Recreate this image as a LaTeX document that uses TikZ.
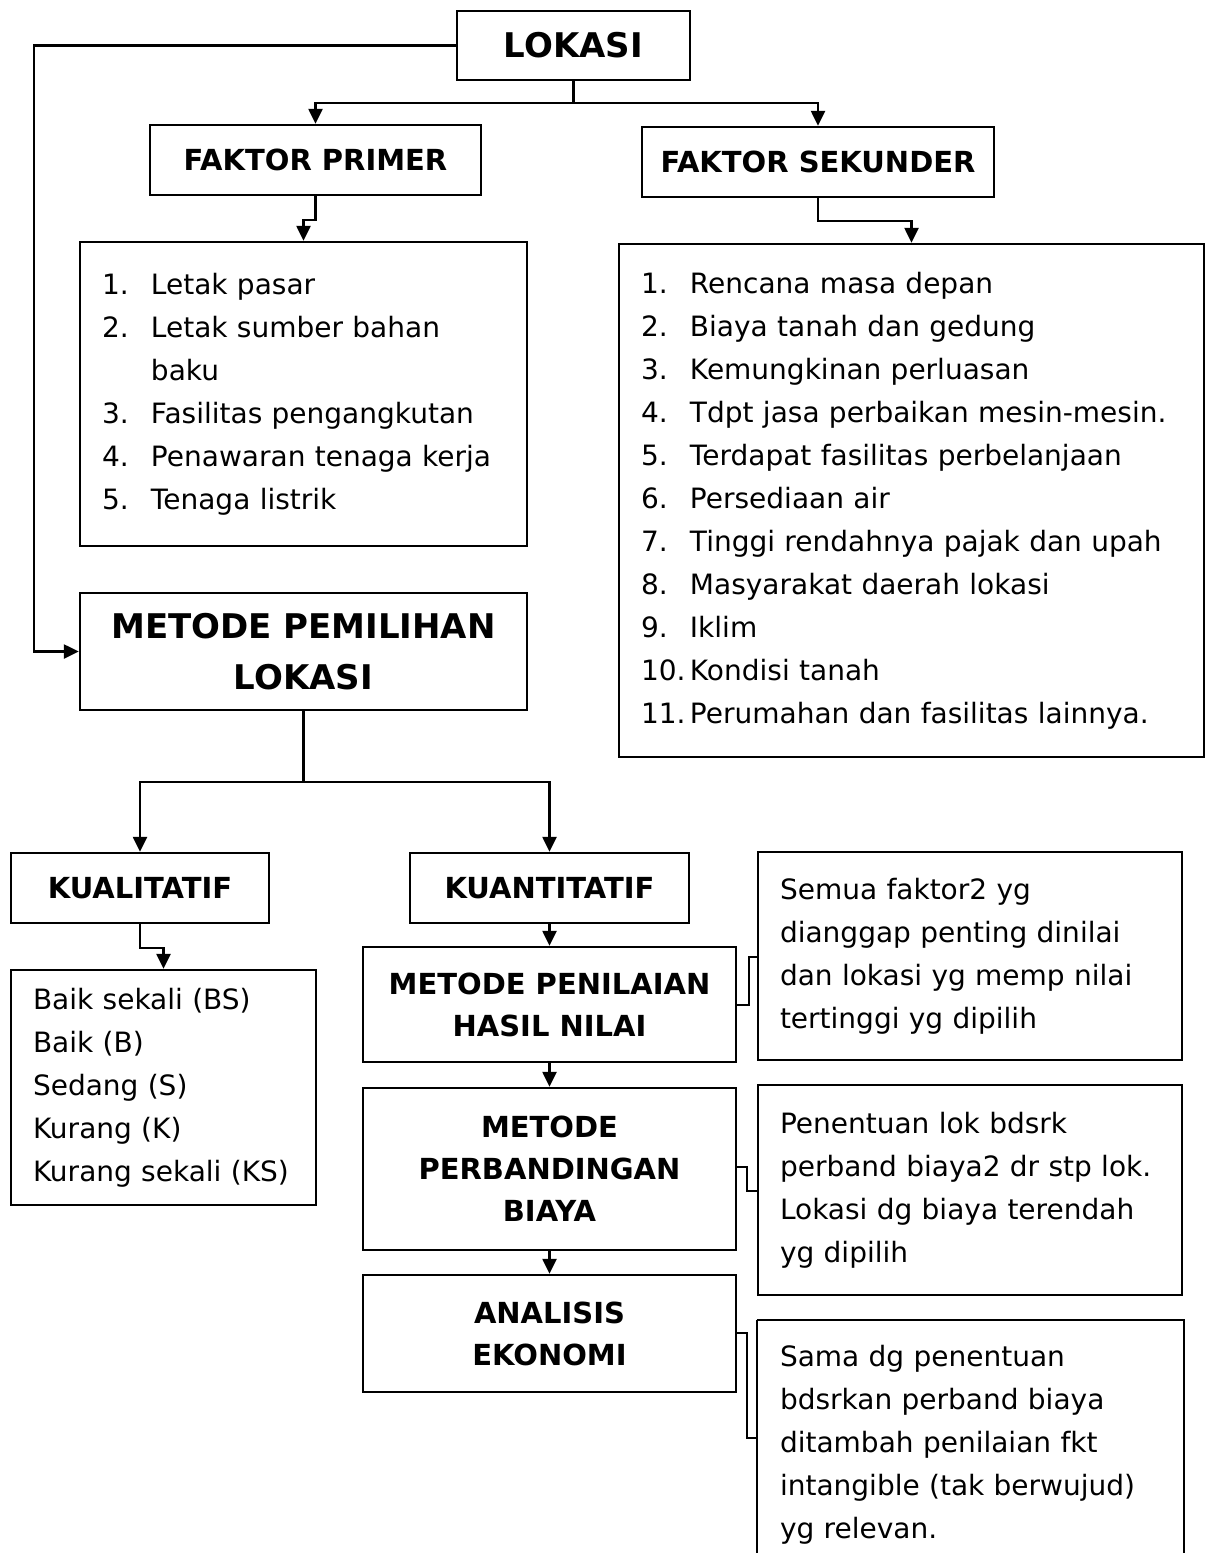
\documentclass[tikz,border=0pt]{standalone}
\usepackage{fontspec}
\setmainfont{DejaVu Sans}
\usetikzlibrary{arrows.meta}

\newcommand{\itm}[2]{\makebox[24.5pt][l]{#1}#2}

\begin{document}
\begin{tikzpicture}[
    x = 0.5pt, y = -0.5pt, % one unit = one pixel, y going down
    > = {Triangle[length=7.5pt,width=7pt]}, % arrow head style
    line width = 1.2pt % line style
    ]

    \tikzset{
    box/.style = {draw = black, line width = 1.2pt, rectangle, inner sep = 0pt, align = center},
    head/.style = {box, font = \fontsize{14.5}{21}\selectfont\bfseries},
    bighead/.style = {box, font = \fontsize{17}{25.5}\selectfont\bfseries},
    listbox/.style = {box, align = left, inner xsep = 11pt, font = \fontsize{14}{21.5}\selectfont}
    }

    \useasboundingbox (0,0) rectangle (1207,1553);

    % top level
    \node[bighead, minimum width=116.5pt, minimum height=34.5pt] (lokasi) at (573.5,45.5) {LOKASI};
    \node[head, minimum width=165.5pt, minimum height=35pt] (primer) at (315.5,160) {FAKTOR PRIMER};
    \node[head, minimum width=176pt, minimum height=35pt] (sekunder) at (818,162) {FAKTOR SEKUNDER};

    \node[listbox, minimum width=223.5pt, minimum height=152pt, text width=201.5pt] (primerlist) at (303.5,394)
        {\itm{1.}{Letak pasar}\\ \itm{2.}{Letak sumber bahan}\\ \itm{}{baku}\\
         \itm{3.}{Fasilitas pengangkutan}\\ \itm{4.}{Penawaran tenaga kerja}\\ \itm{5.}{Tenaga listrik}\\[4pt]};
    \node[listbox, minimum width=292.5pt, minimum height=256.5pt, text width=270.5pt] (sekunderlist) at (911.5,500.5)
        {\itm{1.}{Rencana masa depan}\\ \itm{2.}{Biaya tanah dan gedung}\\ \itm{3.}{Kemungkinan perluasan}\\
         \itm{4.}{Tdpt jasa perbaikan  mesin-mesin.}\\ \itm{5.}{Terdapat fasilitas perbelanjaan}\\
         \itm{6.}{Persediaan air}\\ \itm{7.}{Tinggi rendahnya pajak dan upah}\\ \itm{8.}{Masyarakat daerah lokasi}\\
         \itm{9.}{Iklim}\\ \itm{10.}{Kondisi tanah}\\ \itm{11.}{Perumahan dan fasilitas lainnya.}};

    % metode
    \node[bighead, minimum width=223.5pt, minimum height=58.5pt] (pemilihan) at (303.5,651.5) {METODE PEMILIHAN\\ LOKASI};
    \node[head, minimum width=129pt, minimum height=35pt] (kualitatif) at (140,888) {KUALITATIF};
    \node[head, minimum width=139.5pt, minimum height=35pt] (kuantitatif) at (549.5,888) {KUANTITATIF};
    \node[listbox, minimum width=152.5pt, minimum height=117.5pt, text width=130.5pt] (kuallist) at (163.5,1087.5)
        {Baik sekali (BS)\\ Baik (B)\\ Sedang (S)\\ Kurang (K)\\ Kurang sekali (KS)};

    \node[head, minimum width=186.5pt, minimum height=57.5pt] (penilaian) at (549.5,1004.5) {METODE PENILAIAN\\ HASIL NILAI};
    \node[head, minimum width=186.5pt, minimum height=81pt] (perbandingan) at (549.5,1169) {METODE\\ PERBANDINGAN\\ BIAYA};
    \node[head, minimum width=186.5pt, minimum height=58.5pt] (analisis) at (549.5,1333.5) {ANALISIS\\ EKONOMI};

    \node[listbox, minimum width=212pt, minimum height=104pt, text width=190pt] (desc1) at (970,956)
        {Semua faktor2 yg\\ dianggap penting dinilai\\ dan lokasi yg memp nilai\\ tertinggi yg dipilih};
    \node[listbox, minimum width=212pt, minimum height=105pt, text width=190pt] (desc2) at (970,1190)
        {Penentuan lok bdsrk\\ perband biaya2 dr stp lok.\\ Lokasi dg biaya terendah\\ yg dipilih};
    \node[listbox, draw=none, minimum width=212.5pt, minimum height=116.5pt, text width=190.5pt] (desc3) at (970.5,1445)
        {Sama dg penentuan\\ bdsrkan perband biaya\\ ditambah penilaian fkt\\ intangible (tak berwujud)\\ yg relevan.};
    \draw (desc3.south west |- 0,1320) -- (desc3.south west |- 0,1553);
    \draw (desc3.south west |- 0,1320) -- (desc3.south east |- 0,1320) -- (desc3.south east |- 0,1553);

    % connectors
    \coordinate (split1) at (lokasi.south |- 0,103);
    \coordinate (split2) at (pemilihan.south |- 0,782);

    \draw (lokasi.south) -- (split1);
    \draw[->] (split1) -| (primer.north);
    \draw[->] (split1) -| (sekunder.north);
    \draw[->] (lokasi.west) -| ([xshift=-22.5pt]pemilihan.west) -- (pemilihan.west);

    \draw[->] (primer.south) -- (primer.south |- 0,220) -| (primerlist.north);
    \draw[->] (sekunder.south) -- (sekunder.south |- 0,221) -| (sekunderlist.north);

    \draw (pemilihan.south) -- (split2);
    \draw[->] (split2) -| (kualitatif.north);
    \draw[->] (split2) -| (kuantitatif.north);
    \draw[->] (kualitatif.south) -- (kualitatif.south |- 0,948) -| (kuallist.north);

    \draw[->] (kuantitatif.south) -- (penilaian.north);
    \draw[->] (penilaian.south) -- (perbandingan.north);
    \draw[->] (perbandingan.south) -- (analisis.north);

    \draw (penilaian.east |- 0,1005) -- ++(12,0) |- (desc1.west |- 0,957);
    \draw (perbandingan.east |- 0,1167) -- ++(10,0) |- (desc2.west |- 0,1191);
    \draw (analisis.east |- 0,1333) -- ++(10,0) |- (desc3.west |- 0,1438);
\end{tikzpicture}
\end{document}
